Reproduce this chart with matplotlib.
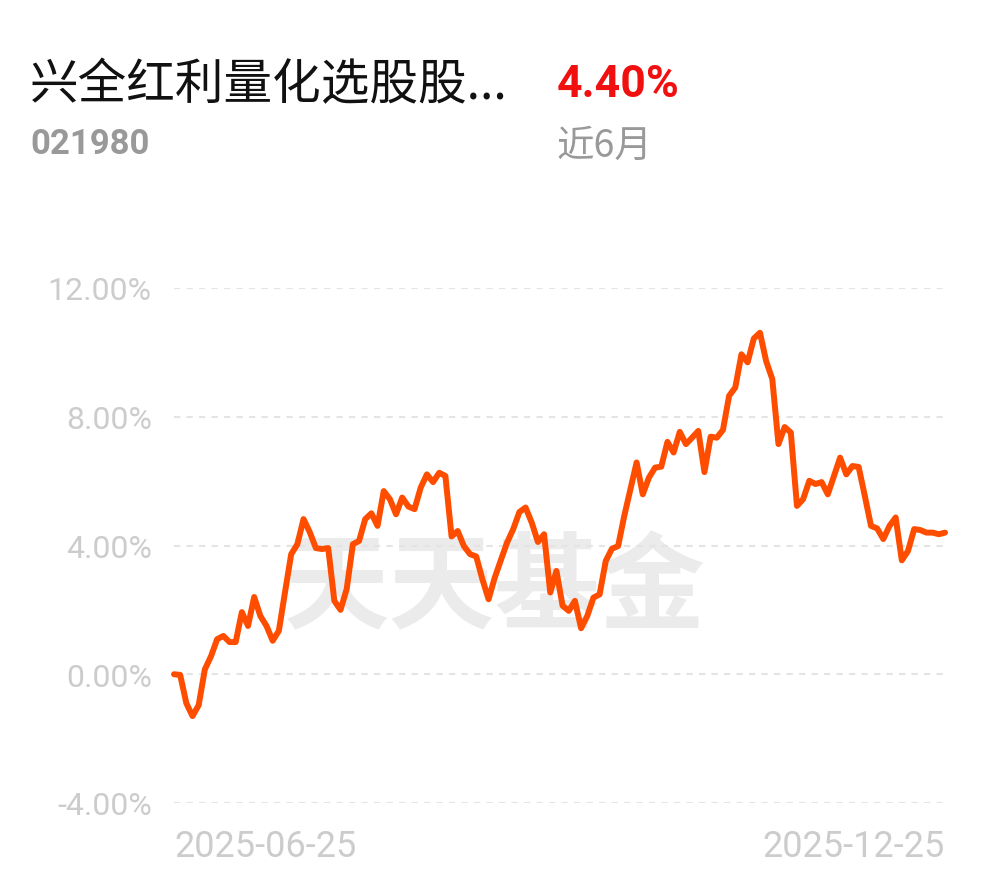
import matplotlib.pyplot as plt
import numpy as np

plt.rcParams['font.family'] = ['Noto Sans CJK SC', 'DejaVu Sans']

# fund info
fund_name = '兴全红利量化选股股...'
fund_code = '021980'
period_return = '4.40%'
period_label = '近6月'

# cumulative return (%) per trading day, 2025-06-25 .. 2025-12-25
returns = [
    0.00, -0.02, -0.90, -1.30, -0.96, 0.15, 0.56, 1.09, 1.19, 1.00,
    1.00, 1.93, 1.50, 2.40, 1.81, 1.50, 1.04, 1.35, 2.55, 3.73,
    4.04, 4.82, 4.42, 3.92, 3.89, 3.92, 2.28, 2.00, 2.65, 4.04,
    4.14, 4.82, 5.00, 4.61, 5.69, 5.44, 4.97, 5.49, 5.21, 5.13,
    5.80, 6.21, 5.97, 6.26, 6.16, 4.28, 4.45, 3.98, 3.73, 3.66,
    2.95, 2.33, 3.00, 3.55, 4.09, 4.51, 5.04, 5.18, 4.71, 4.11,
    4.35, 2.54, 3.21, 2.13, 1.97, 2.28, 1.43, 1.81, 2.38, 2.48,
    3.52, 3.90, 3.98, 4.92, 5.75, 6.58, 5.59, 6.11, 6.42, 6.45,
    7.22, 6.89, 7.53, 7.15, 7.35, 7.56, 6.28, 7.38, 7.35, 7.59,
    8.65, 8.91, 9.94, 9.69, 10.43, 10.61, 9.73, 9.17, 7.15, 7.68,
    7.51, 5.23, 5.44, 6.01, 5.91, 5.97, 5.59, 6.16, 6.73, 6.21,
    6.47, 6.44, 5.54, 4.61, 4.53, 4.20, 4.61, 4.87, 3.54, 3.83,
    4.51, 4.48, 4.40, 4.40, 4.35, 4.40,
]
date_labels = ['2025-06-25', '2025-12-25']
y_ticks = [-4, 0, 4, 8, 12]

fig = plt.figure(figsize=(9.9, 8.78), dpi=100)
W, H = 990, 878
ax = fig.add_axes([174 / W, 1 - 804 / H, (945 - 174) / W, (804 - 289) / H])

x = np.arange(len(returns))
ax.plot(x, returns, color='#FF4D00', lw=4.3, solid_joinstyle='round',
        solid_capstyle='round', zorder=3, clip_on=False)

ax.set_xlim(0, len(returns) - 1)
ax.set_ylim(-4, 12)
ax.set_yticks(y_ticks)
ax.set_yticklabels(['%.2f%%' % v for v in y_ticks])
for v in y_ticks:
    ax.axhline(v, color='#e4e4e4', lw=1.5, ls=(0, (3, 3)), zorder=1)

ax.set_xticks([0, len(returns) - 1])
ax.set_xticklabels(date_labels)
xl = ax.get_xticklabels()
xl[0].set_ha('left')
xl[1].set_ha('right')

for lab in ax.get_yticklabels():
    lab.set_family(['Roboto', 'DejaVu Sans'])
    lab.set_color('#cccccc')
    lab.set_fontsize(23)
for lab in ax.get_xticklabels():
    lab.set_family(['Roboto', 'DejaVu Sans'])
    lab.set_color('#cccccc')
    lab.set_fontsize(26)
ax.tick_params(axis='y', length=0, pad=16)
ax.tick_params(axis='x', length=0, pad=18)
for s in ax.spines.values():
    s.set_visible(False)

# watermark
ax.text(0.416, 0.415, '天天基金', transform=ax.transAxes, ha='center', va='center',
        fontsize=76, fontweight='bold', color='#ebebeb', zorder=0)

# header
fig.text(30 / W, 1 - 85 / H, fund_name, fontsize=35, color='#111111', va='center')
fig.text(30 / W, 1 - 145 / H, fund_code, fontsize=25, color='#999999', va='center',
         fontweight='bold', family=['Roboto', 'DejaVu Sans'])
fig.text(557 / W, 1 - 85 / H, period_return, fontsize=32, color='#F01010', va='center',
         fontweight='bold', family=['Roboto', 'DejaVu Sans'])
fig.text(557 / W, 1 - 146 / H, period_label, fontsize=27, color='#999999', va='center')

fig.savefig('out.png', dpi=100, facecolor='white')
